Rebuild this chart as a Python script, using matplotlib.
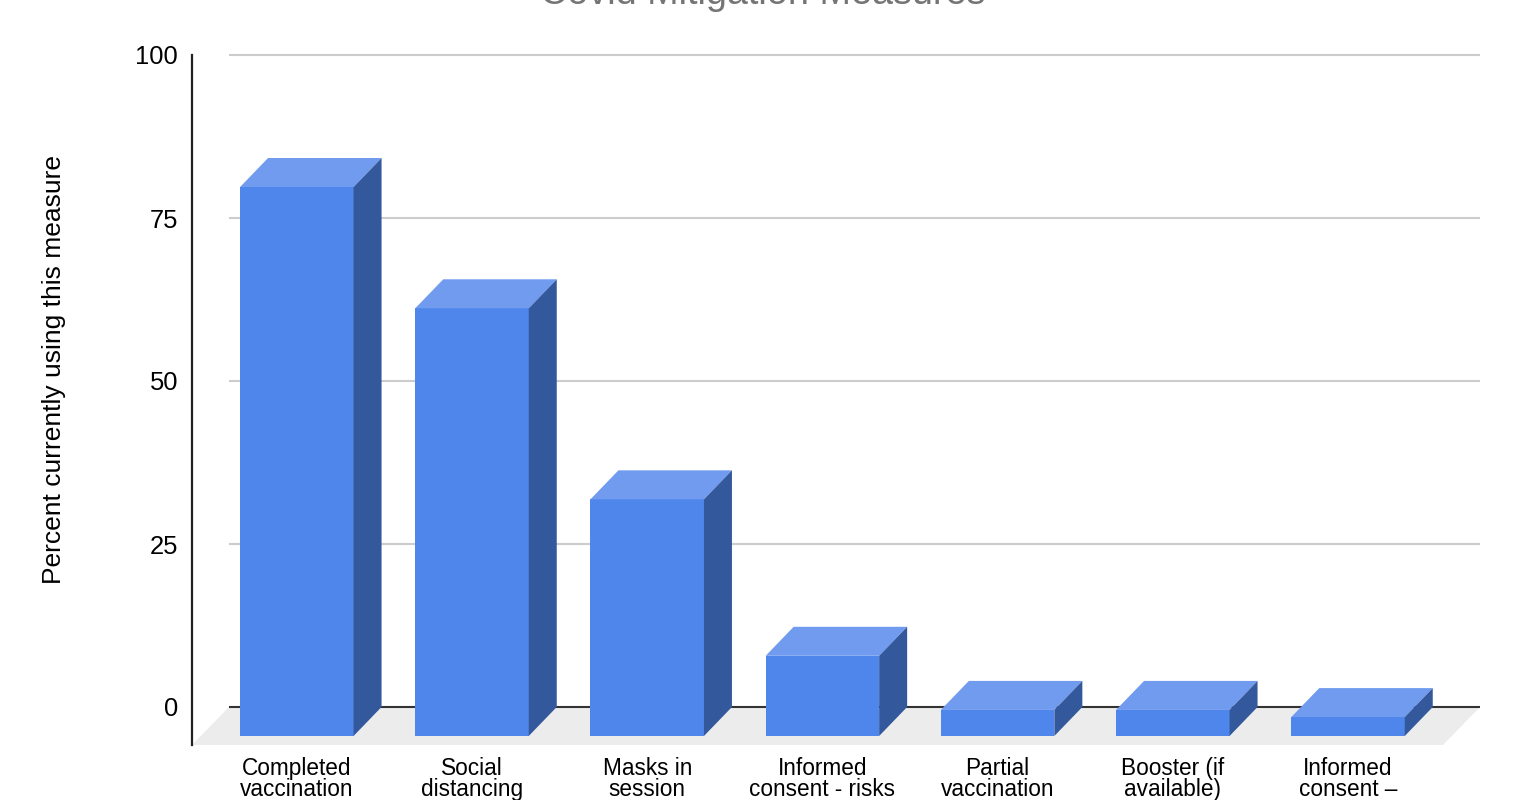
import matplotlib
matplotlib.use("Agg")
import matplotlib.pyplot as plt
from matplotlib.patches import Polygon

categories = ["Completed\nvaccination", "Social\ndistancing", "Masks in\nsession",
              "Informed\nconsent - risks", "Partial\nvaccination",
              "Booster (if\navailable)", "Informed\nconsent –"]
values = [84.2, 65.6, 36.3, 12.3, 4.0, 4.0, 2.9]
y_ticks = [0, 25, 50, 75, 100]
title = "Covid Mitigation Measures"
y_label = "Percent currently using this measure"

FRONT, TOP, SIDE = "#4f86ec", "#709bee", "#33589c"
W, H = 1528, 800
L, R, T, B = 192, 1480, 55, 745
PX_Y = (707 - 55) / 100.0      # px per percent
PX_X = 175.2                   # px per category
CX0 = 296.8                    # px centre of first bar front

plt.rcParams["font.family"] = ["Liberation Sans", "DejaVu Sans"]
fig = plt.figure(figsize=(W / 100, H / 100), dpi=100, facecolor="white")
ax = fig.add_axes([L / W, 1 - B / H, (R - L) / W, (B - T) / H])
ax.set_xlim((L - CX0) / PX_X, (R - CX0) / PX_X)
ax.set_ylim((707 - B) / PX_Y, 100)

dx = 28 / PX_X
dy = 29 / PX_Y
fdx = 37 / PX_X
fdy = 38 / PX_Y
bw = 113.5 / PX_X
x0, x1 = ax.get_xlim()
ymin = ax.get_ylim()[0]

# floor
ax.add_patch(Polygon([(x0, ymin), (x0 + fdx, 0), (x1, 0), (x1 - fdx, ymin)],
                     closed=True, fc="#ececec", ec="none", zorder=1))
# gridlines on the back wall
ax.hlines([t for t in y_ticks if t != 0], x0 + fdx, x1, color="#cccccc", lw=1.5,
          zorder=1, clip_on=False)
ax.hlines(0, x0 + fdx, x1, color="#333333", lw=1.5, zorder=2)

for i, v in enumerate(values):
    l, r = i - bw / 2, i + bw / 2
    bot, top = -dy, v - dy
    ax.add_patch(Polygon([(l, bot), (r, bot), (r, top), (l, top)], closed=True,
                         fc=FRONT, ec="none", zorder=3))
    ax.add_patch(Polygon([(l, top), (r, top), (r + dx, v), (l + dx, v)], closed=True,
                         fc=TOP, ec="none", zorder=3))
    ax.add_patch(Polygon([(r, bot), (r + dx, 0), (r + dx, v), (r, top)], closed=True,
                         fc=SIDE, ec="none", zorder=3))

for s in ("top", "right", "bottom"):
    ax.spines[s].set_visible(False)
ax.spines["left"].set_color("#222222")
ax.spines["left"].set_linewidth(1.6)

ax.set_yticks(y_ticks)
ax.tick_params(axis="y", length=0, pad=10, labelsize=18.4, labelcolor="#000000")
ax.set_xticks(range(len(categories)))
ax.set_xticklabels(categories, fontsize=16.3, linespacing=0.92, color="#000000")
ax.tick_params(axis="x", length=0, pad=8.5)

ax.set_ylabel(y_label, fontsize=19, color="#000000", va="center")
ax.yaxis.set_label_coords((54 - L) / (R - L), (B - 369) / (B - T))

fig.text(763 / W, 1 - 4 / H, title, ha="center", va="baseline", fontsize=27.2, color="#757575")

fig.savefig("out.png", dpi=100, facecolor="white")
